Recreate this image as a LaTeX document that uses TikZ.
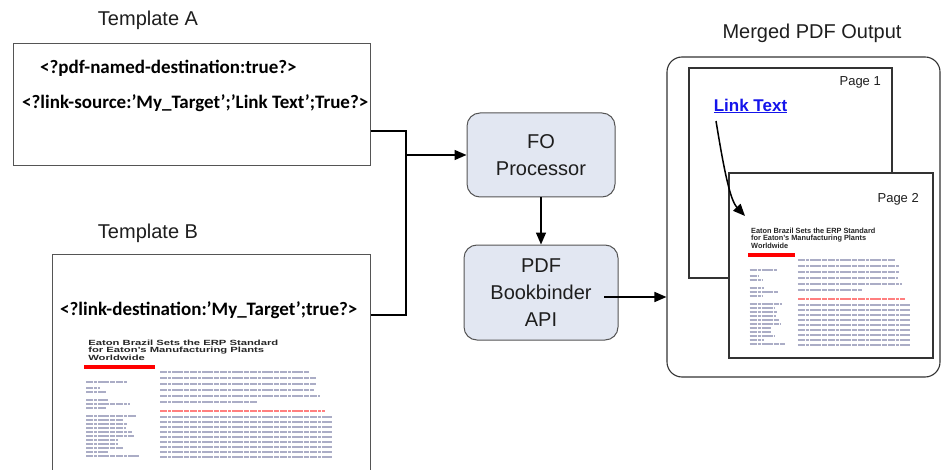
\documentclass[tikz,border=0pt]{standalone}
\usepackage{fontspec}
\setmainfont{Liberation Sans}
\newfontfamily\calib{Carlito}
\usepackage{graphicx}
\usetikzlibrary{arrows.meta}

\definecolor{boxfill}{RGB}{226,231,242}
\definecolor{boxline}{RGB}{85,85,85}
\definecolor{blurtxt}{RGB}{55,60,120}
\definecolor{linkblue}{RGB}{20,20,235}
\definecolor{lbltxt}{RGB}{30,30,30}

\tikzset{
  conn/.style={line width=1.5pt, black},
  tipped/.style={-{Triangle[length=12pt,width=10pt]}},
  procbox/.style={draw=boxline, fill=boxfill, rounded corners=13pt, line width=1pt,
    align=center, font=\fontsize{20}{27}\selectfont, text=lbltxt, inner sep=0pt},
  tmplbox/.style={draw=boxline, fill=white, line width=1pt, inner sep=0pt},
  pagebox/.style={draw=black!80, fill=white, line width=1.1pt, inner sep=0pt},
  outerbox/.style={draw=black!80, fill=white, line width=1.1pt, rounded corners=15pt, inner sep=0pt},
  lbl/.style={font=\fontsize{20}{24}\selectfont, text=lbltxt, inner sep=0pt},
  pglbl/.style={font=\fontsize{13}{15}\selectfont, text=lbltxt, inner sep=0pt},
  codetxt/.style={font=\calib\bfseries\fontsize{19}{21}\selectfont, inner sep=0pt, anchor=west},
  blur/.style={line width=2.2pt, blurtxt, opacity=0.42,
    dash pattern=on 7pt off 1pt on 3pt off 1pt on 11pt off 1pt on 5pt off 1pt},
  blurred/.style={line width=2.2pt, red, opacity=0.5,
    dash pattern=on 7pt off 1pt on 3pt off 1pt on 11pt off 1pt on 5pt off 1pt},
}

% #1,#2 = origin, #3 = geometry xscale, #4 = title xscale
\newcommand\thumbpage[4]{%
  \begin{scope}[shift={(#1,#2)}, xscale=#3]
    \node[anchor=north west, inner sep=0pt, align=left, xscale=#4,
      font=\bfseries\fontsize{7.5}{6.8}\selectfont, text=black!85]
      {Eaton Brazil Sets the ERP Standard\\for Eaton's Manufacturing Plants\\Worldwide};
    \fill[red] (-4,25) rectangle (67,29);
    \foreach \yy/\ee in {32/222,38/228,44/228,50/226,56/232,62/170}
      \draw[blur] (72,\yy) -- (\ee,\yy);
    \draw[blurred] (72,71) -- (237,71);
    \foreach \yy in {77,82,...,117}
      \draw[blur] (72,\yy) -- (244,\yy);
    \foreach \yy/\ee in {42/40,48/12,52/18,60/20,64/42,68/18,76/48,80/36,84/40,88/38,92/44,96/46,100/30,104/30,108/36,112/20,116/52}
      \draw[blur, line width=1.6pt] (-2,\yy) -- (\ee,\yy);
  \end{scope}%
}

\begin{document}
\begin{tikzpicture}[x=1pt, y=-1pt]
  \useasboundingbox (0,0) rectangle (941,470);
  \clip (0,0) rectangle (941,470);
  \fill[white] (0,0) rectangle (941,470);

  % Template A
  \node[lbl] (labA) at (148,20) {Template A};
  \node[tmplbox, minimum width=357pt, minimum height=122pt] (A) at (191.5,105) {};
  \node[codetxt] (a1) at (40,68) {<?pdf-named-destination:true?>};
  \node[codetxt] (a2) at (22,103) {<?link-source:’My\_Target’;’Link Text’;True?>};

  % Template B
  \node[lbl] (labB) at (148,233) {Template B};
  \node[tmplbox, minimum width=318pt, minimum height=240pt] (B) at (211,374) {};
  \node[codetxt] (b1) at (60,310) {<?link-destination:’My\_Target’;true?>};
  \thumbpage{88}{340}{1}{1.5}

  % Processors
  \node[procbox, minimum width=148pt, minimum height=84pt] (FO) at (541,155) {FO\\Processor};
  \node[procbox, minimum width=154pt, minimum height=95pt] (PDF) at (541,292.5) {PDF\\Bookbinder\\API};

  % Merged output
  \node[lbl] (labM) at (812,33) {Merged PDF Output};
  \node[outerbox, minimum width=273pt, minimum height=320pt] (M) at (803.5,217) {};
  \node[pagebox, minimum width=203pt, minimum height=210pt] (P1) at (790.5,173) {};
  \node[pglbl, anchor=east] (p1l) at (881,82) {Page 1};
  \node[inner sep=0pt, font=\bfseries\fontsize{17}{19}\selectfont, text=linkblue] (lt) at (750.5,106) {\underline{Link Text}};
  \node[pagebox, minimum width=204pt, minimum height=185pt] (P2) at (831,265.5) {};
  \node[pglbl, anchor=east] (p2l) at (919,199) {Page 2};
  \thumbpage{751}{228}{0.65}{0.98}

  % Connectors
  \coordinate (j1) at (406,131);
  \coordinate (j2) at (406,315);
  \coordinate (jm) at (406,155);
  \draw[conn] (A.east |- j1) -- (j1) -- (j2) -- (B.east |- j2);
  \draw[conn, tipped] (jm) -- (FO.west);
  \draw[conn, tipped] (FO.south) -- (PDF.north);
  \coordinate (bbe) at (604,297);
  \draw[conn, tipped] (bbe) -- (M.west |- bbe);
  \coordinate (lks) at (716,121);
  \coordinate (lke) at (745,216);
  \draw[conn, tipped] (lks) .. controls (724,170) and (730,200) .. (lke);
\end{tikzpicture}
\end{document}
